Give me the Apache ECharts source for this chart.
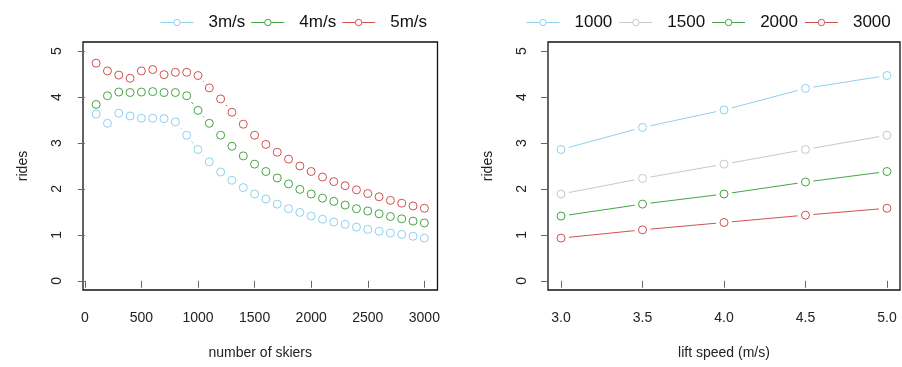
<!DOCTYPE html>
<html>
<head>
<meta charset="utf-8">
<script src="https://cdn.jsdelivr.net/npm/echarts@6/dist/echarts.min.js"></script>
<style>
  html, body { margin: 0; padding: 0; background: #fff; }
  #chart { width: 902px; height: 367px; }
</style>
</head>
<body>
<div id="chart"></div>
<script>
// Rides per skier vs. crowd size (left) and vs. lift speed (right)
const skiers = [100, 200, 300, 400, 500, 600, 700, 800, 900, 1000,
                1100, 1200, 1300, 1400, 1500, 1600, 1700, 1800, 1900, 2000,
                2100, 2200, 2300, 2400, 2500, 2600, 2700, 2800, 2900, 3000];
const rides3 = [3.63, 3.43, 3.65, 3.59, 3.54, 3.54, 3.53, 3.46, 3.17, 2.86,
                2.59, 2.37, 2.19, 2.03, 1.89, 1.78, 1.67, 1.57, 1.49, 1.41,
                1.34, 1.28, 1.23, 1.17, 1.12, 1.08, 1.04, 1.01, 0.97, 0.93];
const rides4 = [3.84, 4.03, 4.11, 4.10, 4.11, 4.12, 4.10, 4.10, 4.03, 3.71,
                3.43, 3.17, 2.93, 2.72, 2.54, 2.38, 2.24, 2.11, 1.99, 1.89,
                1.80, 1.73, 1.65, 1.57, 1.52, 1.46, 1.40, 1.35, 1.30, 1.26];
const rides5 = [4.74, 4.57, 4.48, 4.41, 4.57, 4.60, 4.49, 4.54, 4.54, 4.47,
                4.20, 3.96, 3.67, 3.41, 3.17, 2.97, 2.80, 2.65, 2.50, 2.38,
                2.26, 2.16, 2.07, 1.98, 1.90, 1.83, 1.75, 1.69, 1.63, 1.58];

const speeds = [3.0, 3.5, 4.0, 4.5, 5.0];
const rides1000 = [2.86, 3.34, 3.72, 4.19, 4.47];
const rides1500 = [1.89, 2.23, 2.54, 2.86, 3.17];
const rides2000 = [1.41, 1.67, 1.89, 2.15, 2.38];
const rides3000 = [0.93, 1.11, 1.27, 1.43, 1.58];

const speedNames = ['3m/s', '4m/s', '5m/s'];
const crowdNames = ['1000', '1500', '2000', '3000'];

const skierTicks = [0, 500, 1000, 1500, 2000, 2500, 3000];
const speedTicks = [3.0, 3.5, 4.0, 4.5, 5.0];
const rideTicks = [0, 1, 2, 3, 4, 5];

const BLUE = '#8fd1ee', GRAY = '#c8c8c8', GREEN = '#45a445', RED = '#d05252';
const FONT = 'Liberation Sans, Arial, sans-serif';
const GAP = 8; // px left open between a marker centre and its connecting line

const pairs = (xs, ys) => xs.map((x, i) => [x, ys[i]]);
const segments = (xs, ys) => xs.slice(1).map((x, i) => [xs[i], ys[i], x, ys[i + 1]]);

function yAxisFor(gridIndex) {
  return {
    type: 'value', gridIndex: gridIndex, min: -0.2, max: 5.2,
    name: 'rides', nameLocation: 'middle', nameGap: 53,
    nameTextStyle: { fontFamily: FONT, fontSize: 14, color: '#222' },
    axisLine: { show: false },
    splitLine: { show: false },
    axisTick: { show: true, length: 7, customValues: rideTicks, lineStyle: { color: '#666' } },
    axisLabel: { customValues: rideTicks, rotate: 90, margin: 19, fontFamily: FONT, fontSize: 14, color: '#222' }
  };
}

function xAxisFor(gridIndex, min, max, ticks, name, fmt) {
  return {
    type: 'value', gridIndex: gridIndex, min: min, max: max,
    name: name, nameLocation: 'middle', nameGap: 56,
    nameTextStyle: { fontFamily: FONT, fontSize: 14, color: '#222' },
    axisLine: { show: false },
    splitLine: { show: false },
    axisTick: { show: true, length: 7, customValues: ticks, lineStyle: { color: '#666' } },
    axisLabel: { customValues: ticks, margin: 21, fontFamily: FONT, fontSize: 14, color: '#222', formatter: fmt }
  };
}

// Open-circle markers (white fill, thin coloured ring); the series line itself
// is not stroked and only feeds the legend icon
function pointSeries(name, xs, ys, color, axisIdx) {
  return {
    name: name, type: 'line', xAxisIndex: axisIdx, yAxisIndex: axisIdx,
    data: pairs(xs, ys), z: 4,
    symbol: 'circle', symbolSize: 8, showAllSymbol: true,
    itemStyle: { color: '#fff', borderColor: color, borderWidth: 1 },
    lineStyle: { color: color, width: 0, opacity: 0 },
    emphasis: { disabled: true }, silent: true
  };
}

// Connecting segments that stop short of each marker
function gapLineSeries(xs, ys, color, axisIdx) {
  return {
    type: 'custom', xAxisIndex: axisIdx, yAxisIndex: axisIdx,
    data: segments(xs, ys), z: 3, silent: true,
    encode: { x: [0, 2], y: [1, 3] },
    renderItem: function (params, api) {
      const p0 = api.coord([api.value(0), api.value(1)]);
      const p1 = api.coord([api.value(2), api.value(3)]);
      const dx = p1[0] - p0[0], dy = p1[1] - p0[1];
      const len = Math.sqrt(dx * dx + dy * dy);
      if (len <= 2 * GAP) return null;
      const ux = dx / len, uy = dy / len;
      return {
        type: 'line',
        shape: { x1: p0[0] + ux * GAP, y1: p0[1] + uy * GAP, x2: p1[0] - ux * GAP, y2: p1[1] - uy * GAP },
        style: { stroke: color, lineWidth: 1, fill: null }
      };
    }
  };
}

function legendFor(names, left, textWidth, gap) {
  return {
    data: names, left: left, top: 14, orient: 'horizontal', padding: 0,
    itemWidth: 33, itemHeight: 8, itemGap: gap,
    lineStyle: { opacity: 1, width: 1 },
    itemStyle: { borderWidth: 1 },
    textStyle: { fontFamily: FONT, fontSize: 17, color: '#111', width: textWidth, padding: [0, 0, 0, 10] }
  };
}

const leftSets = [[rides3, BLUE], [rides4, GREEN], [rides5, RED]];
const rightSets = [[rides1000, BLUE], [rides1500, GRAY], [rides2000, GREEN], [rides3000, RED]];

const series = [];
leftSets.forEach(([ys, c], i) => series.push(pointSeries(speedNames[i], skiers, ys, c, 0)));
rightSets.forEach(([ys, c], i) => series.push(pointSeries(crowdNames[i], speeds, ys, c, 1)));
leftSets.forEach(([ys, c]) => series.push(gapLineSeries(skiers, ys, c, 0)));
rightSets.forEach(([ys, c]) => series.push(gapLineSeries(speeds, ys, c, 1)));

const chart = echarts.init(document.getElementById('chart'), null, { renderer: 'canvas' });
chart.setOption({
  animation: false,
  backgroundColor: '#fff',
  grid: [
    { left: 83, top: 42, width: 354.5, height: 248, show: true, borderColor: '#111', borderWidth: 1.3, backgroundColor: 'transparent' },
    { left: 548, top: 42, width: 352, height: 248, show: true, borderColor: '#111', borderWidth: 1.3, backgroundColor: 'transparent' }
  ],
  legend: [
    legendFor(speedNames, 160, 40, 5.5),
    legendFor(crowdNames, 526, 40, 6.5)
  ],
  xAxis: [
    xAxisFor(0, -16, 3116, skierTicks, 'number of skiers', v => String(v)),
    xAxisFor(1, 2.92, 5.08, speedTicks, 'lift speed (m/s)', v => v.toFixed(1))
  ],
  yAxis: [yAxisFor(0), yAxisFor(1)],
  series: series
});
</script>
</body>
</html>
